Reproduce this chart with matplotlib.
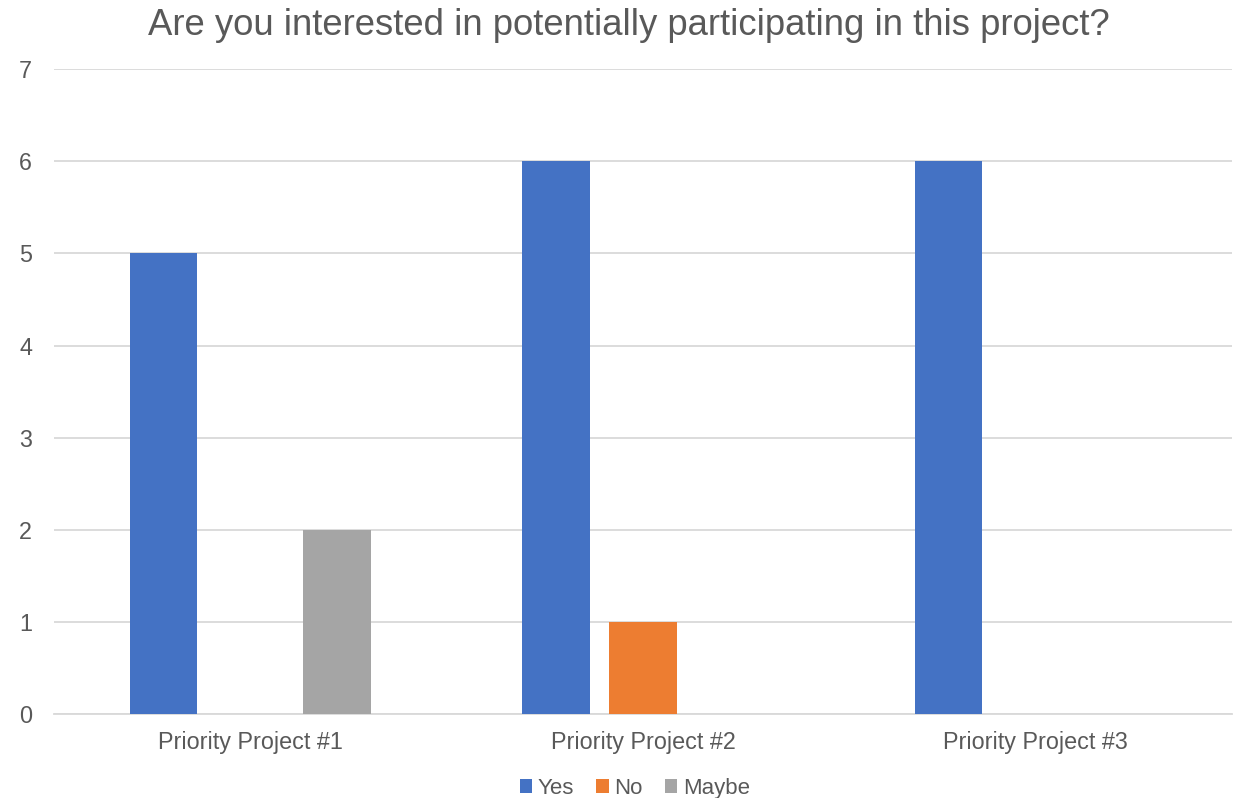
import numpy as np
import matplotlib.pyplot as plt

# Survey responses per project
categories = ["Priority Project #1", "Priority Project #2", "Priority Project #3"]
series_names = ["Yes", "No", "Maybe"]
yes_counts = [5, 6, 6]
no_counts = [0, 1, 0]
maybe_counts = [2, 0, 0]
colors = ["#4472C4", "#ED7D31", "#A5A5A5"]

plt.rcParams["font.family"] = ["Liberation Sans", "DejaVu Sans"]
text_color = "#595959"

fig = plt.figure(figsize=(12.4, 7.98), dpi=100)
ax = fig.add_axes([0.0437, 0.105, 0.9496, 0.8085])

x = np.arange(len(categories))
width = 0.173
step = 0.2215
for i, (name, vals) in enumerate(zip(series_names, [yes_counts, no_counts, maybe_counts])):
    ax.bar(x + (i - 1) * step, vals, width, color=colors[i], label=name, zorder=3)

ax.set_xlim(-0.5, 2.5)
ax.set_ylim(0, 7)
ax.set_yticks(range(0, 8))
ax.set_xticks(x)
ax.set_xticklabels(categories)
ax.grid(axis="y", color="#D9D9D9", linewidth=1.3, zorder=0)
for s in ["top", "right", "left"]:
    ax.spines[s].set_visible(False)
ax.spines["bottom"].set_color("#D9D9D9")
ax.spines["bottom"].set_linewidth(1.3)
ax.tick_params(axis="both", length=0, labelsize=16.8, colors=text_color)
ax.tick_params(axis="y", pad=16)
ax.tick_params(axis="x", pad=12)

fig.suptitle("Are you interested in potentially participating in this project?",
             fontsize=26.3, color=text_color, x=0.507, y=0.99)

fig.legend(loc="lower center", ncol=3, frameon=False, fontsize=16,
           labelcolor=text_color, handlelength=0.55, handleheight=0.55,
           handletextpad=0.25, columnspacing=1.0, bbox_to_anchor=(0.512, -0.026))

fig.savefig("out.png", dpi=100)
